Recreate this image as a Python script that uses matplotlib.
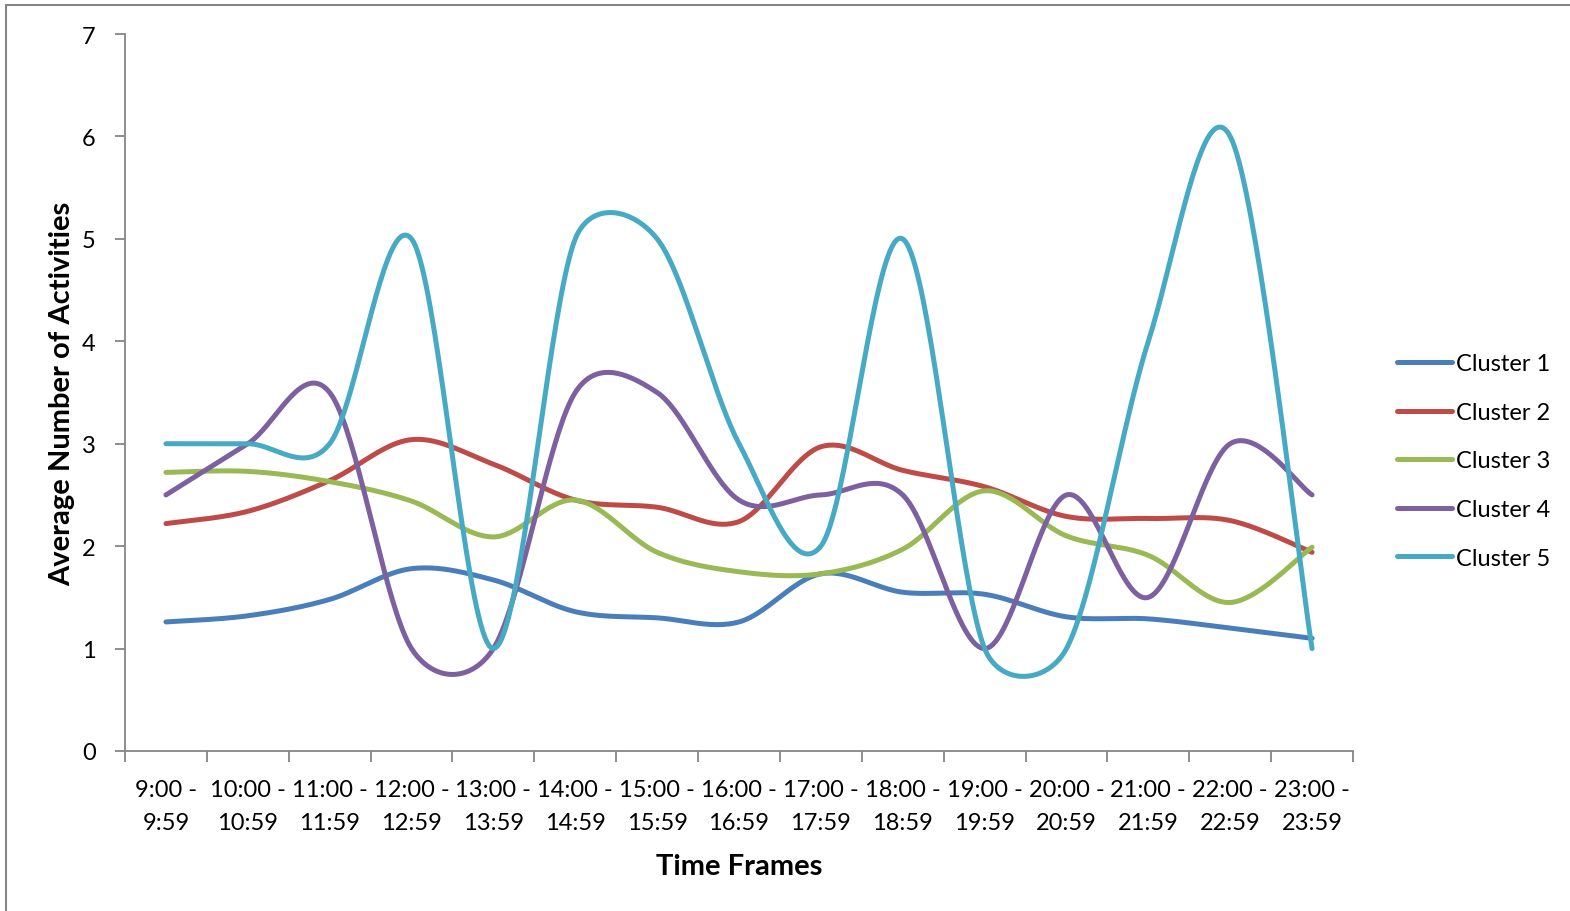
import numpy as np
import matplotlib
matplotlib.use("Agg")
from matplotlib import pyplot as plt
from matplotlib.lines import Line2D
from matplotlib.patches import Rectangle

plt.rcParams["font.family"] = ["Lato", "DejaVu Sans"]

time_frames = ["9:00 -\n9:59", "10:00 -\n10:59", "11:00 -\n11:59", "12:00 -\n12:59",
               "13:00 -\n13:59", "14:00 -\n14:59", "15:00 -\n15:59", "16:00 -\n16:59",
               "17:00 -\n17:59", "18:00 -\n18:59", "19:00 -\n19:59", "20:00 -\n20:59",
               "21:00 -\n21:59", "22:00 -\n22:59", "23:00 -\n23:59"]

cluster_1 = [1.26, 1.32, 1.48, 1.78, 1.67, 1.36, 1.30, 1.26, 1.73, 1.55, 1.53, 1.31, 1.29, 1.20, 1.10]
cluster_2 = [2.22, 2.34, 2.64, 3.04, 2.80, 2.45, 2.38, 2.24, 2.97, 2.74, 2.58, 2.29, 2.27, 2.25, 1.94]
cluster_3 = [2.72, 2.73, 2.63, 2.44, 2.09, 2.45, 1.94, 1.75, 1.73, 1.97, 2.54, 2.10, 1.91, 1.45, 1.99]
cluster_4 = [2.5, 3.0, 3.5, 1.0, 1.0, 3.5, 3.5, 2.45, 2.5, 2.5, 1.0, 2.5, 1.5, 3.0, 2.5]
cluster_5 = [3.0, 3.0, 3.0, 5.0, 1.0, 5.0, 5.0, 3.0, 2.0, 5.0, 1.0, 1.0, 4.0, 6.0, 1.0]

series_names = ["Cluster 1", "Cluster 2", "Cluster 3", "Cluster 4", "Cluster 5"]
series_values = [cluster_1, cluster_2, cluster_3, cluster_4, cluster_5]
series_colors = ["#4A7EBB", "#BE4B48", "#98B954", "#7D60A0", "#46AAC5"]

AXIS_GRAY = "#868686"
LINE_WIDTH = 3.6


def smooth_curve(ax, xs, ys, steps=40):
    """Bezier smoothing done in screen space, control arms capped at half a segment."""
    pts = ax.transData.transform(np.column_stack([xs, ys]))
    n = len(pts)
    out = [pts[0]]
    f = 1.0 / 6.0
    for i in range(n - 1):
        p0 = pts[i - 1] if i > 0 else pts[i]
        p1 = pts[i]
        p2 = pts[i + 1]
        p3 = pts[i + 2] if i + 2 < n else pts[i + 1]
        d02 = np.hypot(*(p2 - p0))
        d12 = np.hypot(*(p2 - p1))
        d13 = np.hypot(*(p3 - p1))
        f0 = f if d02 / 6 < d12 / 2 else d12 / d02 / 2
        f1 = f if d13 / 6 < d12 / 2 else d12 / d13 / 2
        c1 = p1 + (p2 - p0) * f0
        c2 = p2 - (p3 - p1) * f1
        t = np.linspace(0, 1, steps)[1:, None]
        seg = ((1 - t) ** 3) * p1 + 3 * ((1 - t) ** 2) * t * c1 + 3 * (1 - t) * t ** 2 * c2 + t ** 3 * p2
        out.extend(seg)
    out = np.array(out)
    data = ax.transData.inverted().transform(out)
    return data[:, 0], data[:, 1]


fig = plt.figure(figsize=(15.7, 9.12), dpi=100)
ax = fig.add_axes([125 / 1570, (912 - 752) / 912, (1353 - 125) / 1570, (752 - 35) / 912])

positions = np.arange(len(time_frames))
ax.set_xlim(-0.5, len(time_frames) - 0.5)
ax.set_ylim(0, 7)

for name, values, color in zip(series_names, series_values, series_colors):
    sx, sy = smooth_curve(ax, positions, values)
    ax.plot(sx, sy, color=color, linewidth=LINE_WIDTH, solid_capstyle="round", label=name, clip_on=False)

ax.spines["top"].set_visible(False)
ax.spines["right"].set_visible(False)
for side in ["left", "bottom"]:
    ax.spines[side].set_color(AXIS_GRAY)
    ax.spines[side].set_linewidth(1.3)

ax.set_yticks(range(0, 8))
ax.tick_params(axis="y", length=7, width=1.3, color=AXIS_GRAY, labelsize=17, pad=14)
ax.set_xticks(positions)
ax.set_xticklabels(time_frames, fontsize=17, linespacing=1.7)
ax.tick_params(axis="x", which="major", length=0, pad=20.5)
ax.set_xticks(np.arange(-0.5, len(time_frames), 1.0), minor=True)
ax.tick_params(axis="x", which="minor", length=8, width=1.3, color=AXIS_GRAY)

ax.set_ylabel("Average Number of Activities", fontsize=21, fontweight="bold", labelpad=5)
ax.set_xlabel("Time Frames", fontsize=21, fontweight="bold", labelpad=14)

handles = [Line2D([], [], color=c, linewidth=LINE_WIDTH, solid_capstyle="round") for c in series_colors]
fig.legend(handles, series_names, loc="center left", bbox_to_anchor=(1376 / 1570, 1 - 462 / 912),
           frameon=False, fontsize=17, handlelength=2.33, handletextpad=0.17, labelspacing=1.17)

fig.patches.append(Rectangle((6 / 1570, -0.05), 1.2, 1 - 6 / 912 + 0.05, transform=fig.transFigure,
                             fill=False, edgecolor=AXIS_GRAY, linewidth=1.5))

fig.savefig("out.png", dpi=100, facecolor="white")
